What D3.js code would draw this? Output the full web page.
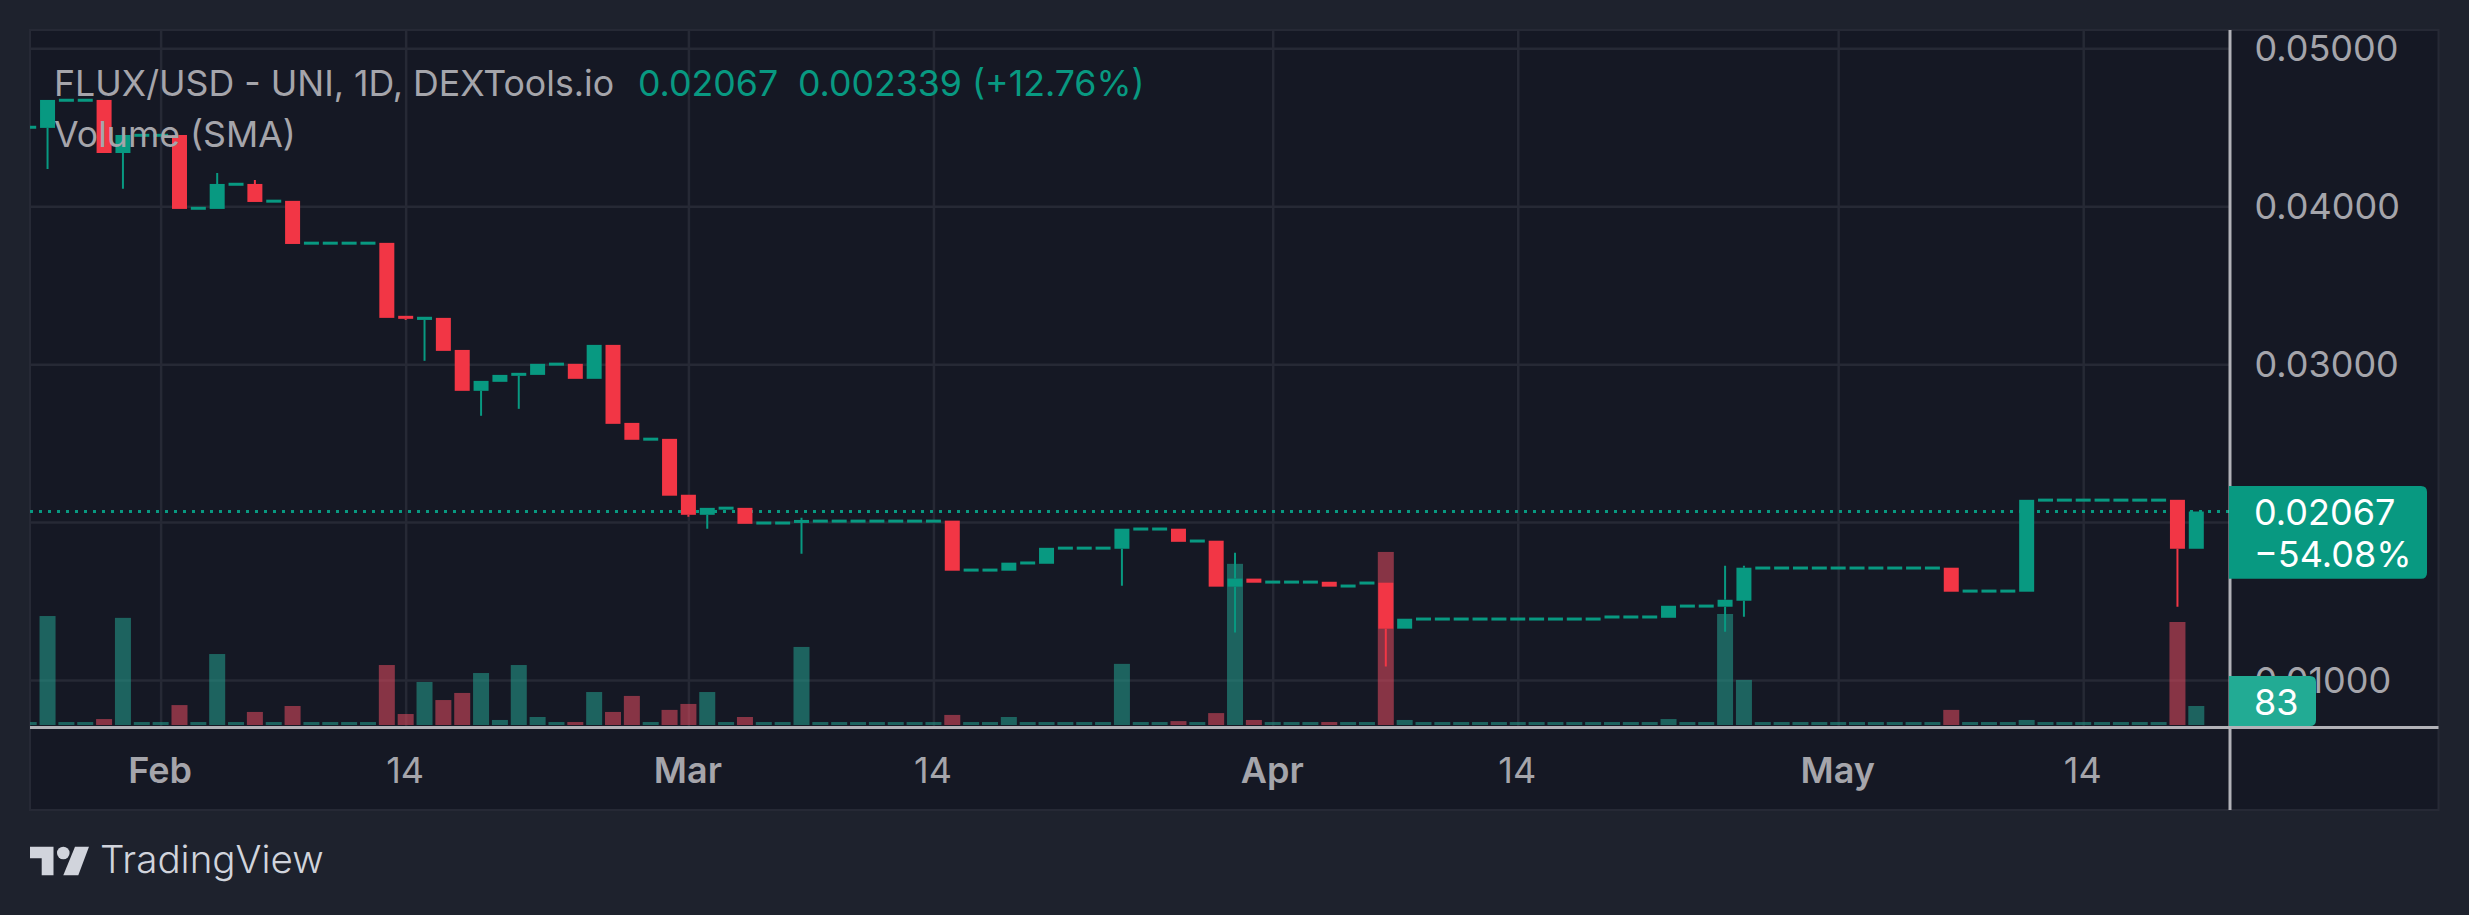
<!DOCTYPE html>
<html>
<head>
<meta charset="utf-8">
<style>
	html, body { margin: 0; padding: 0; background: #1e222d; }
	svg { display: block; }
	text { font-family: Inter, "Noto Sans", sans-serif; }
</style>
<script src="https://cdn.jsdelivr.net/npm/d3@7"></script>
</head>
<body>
<script>
// daily candles, first one is 2023-01-25
var startDay = "2023-01-25";

var opens = [
	.04500, .04496, .04671, .04671, .04673, .04337, .04449, .04449, .04451, .03987,
	.03983, .04139, .04141, .04032, .04034, .03766, .03766, .03766, .03766, .03768,
	.03306, .03280, .03293, .03090, .02831, .02888, .02926, .02932, .03000, .03002,
	.02907, .03122, .02628, .02525, .02527, .02173, .02046, .02088, .02090, .01994,
	.01994, .02002, .02006, .02006, .02006, .02006, .02006, .02006, .02006, .02009,
	.01696, .01696, .01692, .01741, .01736, .01835, .01835, .01835, .01831, .01956,
	.01956, .01958, .01880, .01882, .01591, .01642, .01620, .01620, .01620, .01622,
	.01595, .01614, .01616, .01325, .01386, .01386, .01386, .01386, .01386, .01386,
	.01386, .01386, .01386, .01386, .01399, .01399, .01399, .01394, .01468, .01468,
	.01464, .01502, .01709, .01709, .01709, .01709, .01709, .01709, .01709, .01709,
	.01709, .01709, .01711, .01563, .01563, .01563, .01559, .02139, .02139, .02139,
	.02139, .02139, .02139, .02139, .02141, .01831
];
var closes = [
	.04500, .04673, .04671, .04671, .04337, .04451, .04449, .04449, .03983, .03987,
	.04141, .04139, .04027, .04032, .03761, .03766, .03766, .03766, .03766, .03293,
	.03287, .03300, .03084, .02831, .02894, .02932, .02945, .03002, .03000, .02907,
	.03122, .02622, .02521, .02525, .02167, .02046, .02090, .02088, .01989, .01994,
	.01994, .02006, .02006, .02006, .02006, .02006, .02006, .02006, .02006, .01692,
	.01696, .01696, .01743, .01741, .01837, .01835, .01835, .01835, .01958, .01956,
	.01956, .01875, .01880, .01591, .01642, .01616, .01620, .01620, .01620, .01591,
	.01595, .01614, .01325, .01388, .01386, .01386, .01386, .01386, .01386, .01386,
	.01386, .01386, .01386, .01386, .01399, .01399, .01399, .01470, .01468, .01468,
	.01508, .01711, .01709, .01709, .01709, .01709, .01709, .01709, .01709, .01709,
	.01709, .01709, .01559, .01563, .01563, .01563, .02141, .02139, .02139, .02139,
	.02139, .02139, .02139, .02139, .01831, .02067
];
// only the days that have a visible wick: [day index, price]
var highWicks = [[10, .04211], [12, .04166], [41, .02027], [64, .01806], [90, .01723], [91, .01723]];
var lowWicks = [[1, .04236], [5, .04110], [20, .03280], [21, .03021], [24, .02673], [26, .02717],
	[35, .02034], [36, .01958], [41, .01800], [58, .01597], [64, .01300], [72, .01085],
	[90, .01306], [91, .01401], [114, .01464]];
var volumes = [
	13, 476, 13, 13, 26, 468, 13, 13, 87, 13,
	310, 13, 57, 13, 83, 13, 13, 13, 13, 262,
	48, 188, 109, 140, 227, 22, 262, 35, 13, 13,
	144, 57, 127, 13, 66, 92, 144, 13, 35, 13,
	13, 341, 13, 13, 13, 13, 13, 13, 13, 44,
	13, 13, 35, 13, 13, 13, 13, 13, 267, 13,
	13, 17, 13, 52, 704, 22, 13, 13, 13, 13,
	13, 13, 756, 22, 13, 13, 13, 13, 13, 13,
	13, 13, 13, 13, 13, 13, 13, 26, 13, 13,
	485, 197, 13, 13, 13, 13, 13, 13, 13, 13,
	13, 13, 66, 13, 13, 13, 22, 13, 13, 13,
	13, 13, 13, 13, 450, 83
];

var priceTicks = [.05, .04, .03, .02, .01];
// 0.02000 sits under the last price tag, so it gets no label
var priceLabels = [.05, .04, .03, .01];
var timeTicks = ["2023-02-01", "2023-02-14", "2023-03-01", "2023-03-14", "2023-04-01", "2023-04-14", "2023-05-01", "2023-05-14"];
var timeLabels = ["Feb", "14", "Mar", "14", "Apr", "14", "May", "14"];
var legendTitle = "FLUX/USD - UNI, 1D, DEXTools.io";
var legendValues = ["0.02067", "0.002339 (+12.76%)"];
var lastPrice = .02067;
var lastChange = "\u221254.08%";
var lastVolume = 83;

var W = 2469, H = 915;
var left = 30, top_ = 30, right = 2230, frameRight = 2438.5, bottom = 810, baseY = 727.5;
var green = "#089981", red = "#f23645";
var volGreen = "#239687", volRed = "#d3485b";
var gridColor = "#262935", lineColor = "#b2b2b8", textColor = "#a5a5ab";

var days = opens.map(function(d, i) { return d3.utcDay.offset(new Date(startDay), i); });

var x = d3.scaleUtc().domain([days[0], days[days.length - 1]]).range([28.7, 2196.3]);
var y = d3.scaleLinear().domain([.01, .05]).range([680, 48.3]);
var yVol = d3.scaleLinear().domain([0, 83]).range([725, 706]);
var tickDates = timeTicks.map(function(d) { return new Date(d); });

var svg = d3.select("body").append("svg").attr("width", W).attr("height", H);

svg.append("defs").append("clipPath").attr("id", "plot-clip")
	.append("rect").attr("x", left).attr("y", top_).attr("width", right - left).attr("height", baseY - top_);

// panel
svg.append("rect").attr("x", left).attr("y", top_).attr("width", frameRight - left).attr("height", bottom - top_)
	.attr("fill", "#151824").attr("stroke", gridColor).attr("stroke-width", 2);

// grid
var gridX = svg.append("g").attr("transform", "translate(0," + baseY + ")")
	.call(d3.axisBottom(x).tickValues(tickDates).tickSize(top_ - baseY).tickFormat(""));
var gridY = svg.append("g").attr("transform", "translate(" + left + ",0)")
	.call(d3.axisLeft(y).tickValues(priceTicks).tickSize(left - right).tickFormat(""));
svg.selectAll("g .domain").remove();
gridX.selectAll("line").attr("stroke", gridColor).attr("stroke-width", 2.5);
gridY.selectAll("line").attr("stroke", gridColor).attr("stroke-width", 2.5);

var marks = svg.append("g").attr("clip-path", "url(#plot-clip)");

function colorOf(i) {
	return closes[i] < opens[i] ? red : green;
}

// volume
marks.append("g").selectAll("rect").data(volumes).enter().append("rect")
	.attr("x", function(d, i) { return x(days[i]) - 8; })
	.attr("y", function(d) { return yVol(d); })
	.attr("width", 16)
	.attr("height", function(d) { return yVol(0) - yVol(d); })
	.attr("fill", function(d, i) { return closes[i] < opens[i] ? volRed : volGreen; })
	.attr("opacity", .6);

// last price line
marks.append("line")
	.attr("x1", left).attr("x2", right).attr("y1", y(lastPrice)).attr("y2", y(lastPrice))
	.attr("stroke", green).attr("stroke-width", 3).attr("stroke-dasharray", "3 6");

// wicks
function drawWicks(list, key) {
	marks.append("g").selectAll("line").data(list).enter().append("line")
		.attr("x1", function(d) { return x(days[d[0]]); })
		.attr("x2", function(d) { return x(days[d[0]]); })
		.attr("y1", function(d) { return y(d[1]); })
		.attr("y2", function(d) { return y(key(opens[d[0]], closes[d[0]])); })
		.attr("stroke", function(d) { return colorOf(d[0]); })
		.attr("stroke-width", 2);
}
drawWicks(highWicks, Math.max);
drawWicks(lowWicks, Math.min);

// candle bodies, flat days still get a 3px tick
marks.append("g").selectAll("rect").data(opens).enter().append("rect")
	.attr("x", function(d, i) { return x(days[i]) - 7.5; })
	.attr("y", function(d, i) {
		var a = y(Math.max(d, closes[i])), b = y(Math.min(d, closes[i]));
		return b - a < 3 ? (a + b) / 2 - 1.5 : a;
	})
	.attr("width", 15)
	.attr("height", function(d, i) { return Math.max(3, Math.abs(y(d) - y(closes[i]))); })
	.attr("fill", function(d, i) { return colorOf(i); });

// axis lines
svg.append("line").attr("x1", left).attr("x2", frameRight).attr("y1", baseY).attr("y2", baseY)
	.attr("stroke", lineColor).attr("stroke-width", 3);
svg.append("line").attr("x1", right).attr("x2", right).attr("y1", top_).attr("y2", bottom)
	.attr("stroke", lineColor).attr("stroke-width", 3);

// time labels
var timeAxis = svg.append("g").attr("transform", "translate(0," + baseY + ")")
	.call(d3.axisBottom(x).tickValues(tickDates).tickSize(0).tickPadding(0)
		.tickFormat(function(d, i) { return timeLabels[i]; }));
timeAxis.select(".domain").remove();
timeAxis.selectAll("text")
	.attr("y", 55.2).attr("dy", 0).attr("dx", -1)
	.attr("fill", textColor).attr("font-size", 36)
	.attr("font-weight", function(d, i) { return i % 2 ? 400 : 600; })
	.style("font-family", "Inter");

// price labels
var priceAxis = svg.append("g").attr("transform", "translate(" + right + ",0)")
	.call(d3.axisRight(y).tickValues(priceLabels).tickSize(0).tickPadding(24.5).tickFormat(d3.format(".5f")));
priceAxis.select(".domain").remove();
priceAxis.selectAll("text")
	.attr("dy", 12.4)
	.attr("fill", textColor).attr("font-size", 36)
	.style("font-family", "Inter");

// legend
var legend = svg.append("g").attr("font-size", 35.7);
legend.append("text").attr("x", 54).attr("y", 95.7).attr("fill", textColor).text(legendTitle);
legend.append("text").attr("x", 54).attr("y", 146.7).attr("fill", textColor).text("Volume (SMA)");
legend.append("text").attr("x", 638).attr("y", 95.7).attr("fill", green).text(legendValues[0]);
legend.append("text").attr("x", 798).attr("y", 95.7).attr("fill", green).text(legendValues[1]);

// value tags on the price scale
function tagPath(x0, y0, x1, y1, r) {
	return "M" + x0 + " " + y0 + " H" + (x1 - r) + " Q" + x1 + " " + y0 + " " + x1 + " " + (y0 + r) +
		" V" + (y1 - r) + " Q" + x1 + " " + y1 + " " + (x1 - r) + " " + y1 + " H" + x0 + " Z";
}
svg.append("path").attr("d", tagPath(2229, 486, 2427, 578.7, 6)).attr("fill", green);
svg.append("path").attr("d", tagPath(2229, 676, 2316, 726, 6)).attr("fill", "#22ab94");
var tags = svg.append("g").attr("font-size", 36).attr("fill", "#ffffff");
tags.append("text").attr("x", 2254).attr("y", 524.7).text(d3.format(".5f")(lastPrice));
tags.append("text").attr("x", 2254).attr("y", 566.7).text(lastChange);
tags.append("text").attr("x", 2254).attr("y", 714.7).text(lastVolume);

// TradingView mark
var logo = svg.append("g").attr("fill", "#d1d4dc");
logo.append("path").attr("d", "M30 846.7 H53.5 V875.3 H41.7 V858.3 H30 Z");
logo.append("circle").attr("cx", 63.3).attr("cy", 853).attr("r", 6.3);
logo.append("path").attr("d", "M75 846.7 H89 L78.3 875.3 H63.3 Z");
svg.append("text").attr("x", 100).attr("y", 873).attr("fill", "#d1d4dc")
	.attr("font-size", 38.6).attr("font-weight", 300).text("TradingView");
</script>
</body>
</html>
